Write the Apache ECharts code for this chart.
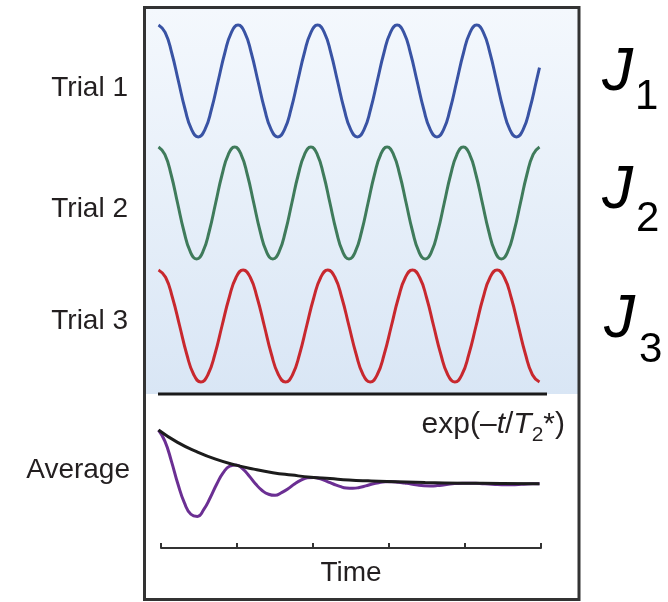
<!DOCTYPE html>
<html><head><meta charset="utf-8">
<script src="https://cdn.jsdelivr.net/npm/echarts@6/dist/echarts.min.js"></script>
<style>html,body{margin:0;padding:0;background:#fff}#c{width:668px;height:602px}</style>
</head><body><div id="c"></div>
<script>
// ---- labels ----
const trialLabels = ['Trial 1', 'Trial 2', 'Trial 3'];
const averageLabel = 'Average';
const couplingSubscripts = ['1', '2', '3'];
const timeAxisName = 'Time';
const timeTicks = [0, 1, 2, 3, 4, 5];

// ---- series values: [time, normalized signal] ----
const trial1 = [
  [0,1],[0.087,0.87],[0.174,0.5],[0.261,0],[0.348,-0.5],[0.435,-0.87],[0.522,-1],[0.609,-0.87],[0.696,-0.5],[0.783,0],[0.870,0.5],[0.957,0.87],
  [1.044,1],[1.131,0.87],[1.218,0.5],[1.305,0],[1.392,-0.5],[1.479,-0.87],[1.566,-1],[1.653,-0.87],[1.740,-0.5],[1.827,0],[1.914,0.5],[2.001,0.87],
  [2.088,1],[2.175,0.87],[2.262,0.5],[2.349,0],[2.436,-0.5],[2.523,-0.87],[2.610,-1],[2.697,-0.87],[2.784,-0.5],[2.871,0],[2.958,0.5],[3.045,0.87],
  [3.132,1],[3.219,0.87],[3.306,0.5],[3.393,0],[3.480,-0.5],[3.567,-0.87],[3.654,-1],[3.741,-0.87],[3.828,-0.5],[3.915,0],[4.002,0.5],[4.089,0.87],
  [4.176,1],[4.263,0.87],[4.350,0.5],[4.437,0],[4.524,-0.5],[4.611,-0.87],[4.698,-1],[4.785,-0.87],[4.872,-0.5],[4.959,0],[5.000,0.24]];
const trial2 = [
  [0,1],[0.083,0.87],[0.167,0.5],[0.25,0],[0.333,-0.5],[0.417,-0.87],[0.5,-1],[0.583,-0.87],[0.667,-0.5],[0.75,0],[0.833,0.5],[0.917,0.87],
  [1,1],[1.083,0.87],[1.167,0.5],[1.25,0],[1.333,-0.5],[1.417,-0.87],[1.5,-1],[1.583,-0.87],[1.667,-0.5],[1.75,0],[1.833,0.5],[1.917,0.87],
  [2,1],[2.083,0.87],[2.167,0.5],[2.25,0],[2.333,-0.5],[2.417,-0.87],[2.5,-1],[2.583,-0.87],[2.667,-0.5],[2.75,0],[2.833,0.5],[2.917,0.87],
  [3,1],[3.083,0.87],[3.167,0.5],[3.25,0],[3.333,-0.5],[3.417,-0.87],[3.5,-1],[3.583,-0.87],[3.667,-0.5],[3.75,0],[3.833,0.5],[3.917,0.87],
  [4,1],[4.083,0.87],[4.167,0.5],[4.25,0],[4.333,-0.5],[4.417,-0.87],[4.5,-1],[4.583,-0.87],[4.667,-0.5],[4.75,0],[4.833,0.5],[4.917,0.87],
  [5,1]];
const trial3 = [
  [0,1],[0.093,0.87],[0.185,0.5],[0.278,0],[0.370,-0.5],[0.463,-0.87],[0.556,-1],[0.648,-0.87],[0.741,-0.5],[0.833,0],[0.926,0.5],[1.019,0.87],
  [1.111,1],[1.204,0.87],[1.296,0.5],[1.389,0],[1.481,-0.5],[1.574,-0.87],[1.667,-1],[1.759,-0.87],[1.852,-0.5],[1.944,0],[2.037,0.5],[2.130,0.87],
  [2.222,1],[2.315,0.87],[2.407,0.5],[2.500,0],[2.593,-0.5],[2.685,-0.87],[2.778,-1],[2.870,-0.87],[2.963,-0.5],[3.056,0],[3.148,0.5],[3.241,0.87],
  [3.333,1],[3.426,0.87],[3.519,0.5],[3.611,0],[3.704,-0.5],[3.796,-0.87],[3.889,-1],[3.981,-0.87],[4.074,-0.5],[4.167,0],[4.259,0.5],[4.352,0.87],
  [4.444,1],[4.537,0.87],[4.630,0.5],[4.722,0],[4.815,-0.5],[4.907,-0.87],[5.000,-1]];
const averageSignal = [
  [0,1],[0.085,0.79],[0.17,0.42],[0.255,0],[0.34,-0.35],[0.425,-0.56],[0.51,-0.6],[0.595,-0.47],[0.68,-0.25],[0.765,0],[0.85,0.21],[0.935,0.33],
  [1.02,0.35],[1.105,0.28],[1.19,0.15],[1.275,0],[1.36,-0.12],[1.445,-0.19],[1.53,-0.21],[1.615,-0.16],[1.70,-0.09],[1.785,0],[1.87,0.07],[1.955,0.115],
  [2.04,0.12],[2.125,0.095],[2.21,0.05],[2.295,0],[2.38,-0.045],[2.465,-0.075],[2.55,-0.08],[2.635,-0.065],[2.72,-0.035],[2.805,0],[2.89,0.025],[2.975,0.04],
  [3.06,0.042],[3.145,0.033],[3.23,0.017],[3.315,0],[3.40,-0.02],[3.485,-0.032],[3.57,-0.035],[3.655,-0.03],[3.74,-0.017],[3.825,0],[3.91,0.009],[3.995,0.014],
  [4.08,0.015],[4.165,0.012],[4.25,0.006],[4.335,0],[4.42,-0.008],[4.505,-0.014],[4.59,-0.015],[4.675,-0.012],[4.76,-0.006],[4.845,0],[4.93,0.003],[5.00,0.004]];
const decayEnvelope = [[0,1],[0.25,0.77],[0.5,0.6],[0.75,0.46],[1,0.355],[1.25,0.275],[1.5,0.21],
  [1.75,0.165],[2,0.125],[2.25,0.1],[2.5,0.075],[2.75,0.058],[3,0.045],[3.5,0.027],[4,0.016],[4.5,0.01],[5,0.006]];

// ---- styling / layout ----
const FONT = "'Liberation Sans', Arial, Helvetica, sans-serif";
const TXT = '#231f20';
const trialColors = ['#3953a4', '#3f7b5b', '#c8282e'];
const plotLeft = 158.5, plotWidth = 381;
const panelTops = [25, 147, 270];
const panelH = 112;

const chart = echarts.init(document.getElementById('c'), null, {renderer: 'canvas'});

const grids = [], xAxes = [], yAxes = [], series = [];
const trials = [trial1, trial2, trial3];
trials.forEach((d, i) => {
  grids.push({left: plotLeft, top: panelTops[i], width: plotWidth, height: panelH, show: false});
  xAxes.push({type: 'value', gridIndex: i, min: 0, max: 5, show: false});
  yAxes.push({type: 'value', gridIndex: i, min: -1, max: 1, show: false});
  series.push({type: 'line', xAxisIndex: i, yAxisIndex: i, data: d, smooth: 0.5, showSymbol: false,
    clip: false, silent: true, lineStyle: {color: trialColors[i], width: 3}});
});
// average panel
grids.push({left: plotLeft, top: 430, width: plotWidth, height: 108, show: false});
xAxes.push({type: 'value', gridIndex: 3, min: 0, max: 5, show: false});
yAxes.push({type: 'value', gridIndex: 3, min: -1, max: 1, show: false});
series.push({type: 'line', xAxisIndex: 3, yAxisIndex: 3, data: averageSignal, smooth: 0.5, showSymbol: false,
  clip: false, silent: true, lineStyle: {color: '#6b2f93', width: 3}});
series.push({type: 'line', xAxisIndex: 3, yAxisIndex: 3, data: decayEnvelope, smooth: 0.5, showSymbol: false,
  clip: false, silent: true, lineStyle: {color: '#1c1c1c', width: 3}});
// time axis
grids.push({left: 161, top: 500, width: 380, height: 48, show: false});
xAxes.push({type: 'value', gridIndex: 4, min: timeTicks[0], max: timeTicks[timeTicks.length - 1], interval: 1,
  axisLine: {show: true, lineStyle: {color: '#333', width: 2}},
  axisTick: {show: true, inside: true, length: 5, lineStyle: {color: '#333', width: 2}},
  axisLabel: {show: false}, splitLine: {show: false},
  name: timeAxisName, nameLocation: 'middle', nameGap: 11,
  nameTextStyle: {fontSize: 28, fontFamily: FONT, color: TXT}});
yAxes.push({type: 'value', gridIndex: 4, min: 0, max: 1, show: false});

const labelY = [88, 209, 321];
const graphics = [
  {type: 'rect', shape: {x: 146, y: 8, width: 432, height: 386}, silent: true,
   style: {fill: new echarts.graphic.LinearGradient(0, 0, 0, 1, [{offset: 0, color: '#f4f8fd'}, {offset: 1, color: '#d9e6f5'}])}},
  {type: 'rect', shape: {x: 144.5, y: 7.5, width: 434.5, height: 592}, silent: true,
   style: {fill: 'transparent', stroke: '#333', lineWidth: 3}},
  {type: 'line', shape: {x1: 158, y1: 394, x2: 547, y2: 394}, silent: true,
   style: {stroke: '#1a1a1a', lineWidth: 3}}
];
trialLabels.forEach((t, i) => {
  graphics.push({type: 'text', x: 128, y: labelY[i], silent: true,
    style: {text: t, fontSize: 28, fontFamily: FONT, fill: TXT, textAlign: 'right', textVerticalAlign: 'middle', verticalAlign: 'middle'}});
});
graphics.push({type: 'text', x: 130, y: 470, silent: true,
  style: {text: averageLabel, fontSize: 28, fontFamily: FONT, fill: TXT, textAlign: 'right', textVerticalAlign: 'middle', verticalAlign: 'middle'}});
// exp(-t/T2*) label
graphics.push({type: 'text', x: 565, y: 425, silent: true,
  style: {text: '{n|exp(–}{i|t}{n|/}{i|T}{s|2}{n|*)}', fill: TXT, textAlign: 'right', textVerticalAlign: 'middle', verticalAlign: 'middle',
    rich: {n: {fontSize: 30, fontFamily: FONT, fill: TXT},
           i: {fontSize: 30, fontFamily: FONT, fontStyle: 'italic', fill: TXT},
           s: {fontSize: 21, fontFamily: FONT, fill: TXT, padding: [20, 0, 0, 0]}}}});
// J labels
const jCenters = [73, 190.5, 320];
const subCenters = [97, 219, 350];
const jX = [602, 602, 604];
const subX = [635, 636, 639];
couplingSubscripts.forEach((s, i) => {
  graphics.push({type: 'text', x: jX[i], y: jCenters[i], silent: true,
    style: {text: 'J', fontSize: 62, fontStyle: 'italic', fontFamily: FONT, fill: '#000', textAlign: 'left', textVerticalAlign: 'middle', verticalAlign: 'middle'}});
  graphics.push({type: 'text', x: subX[i], y: subCenters[i], silent: true,
    style: {text: s, fontSize: 42, fontFamily: FONT, fill: '#000', textAlign: 'left', textVerticalAlign: 'middle', verticalAlign: 'middle'}});
});

chart.setOption({
  animation: false,
  backgroundColor: '#ffffff',
  grid: grids, xAxis: xAxes, yAxis: yAxes, series: series,
  graphic: {elements: graphics}
});
</script>
</body></html>
